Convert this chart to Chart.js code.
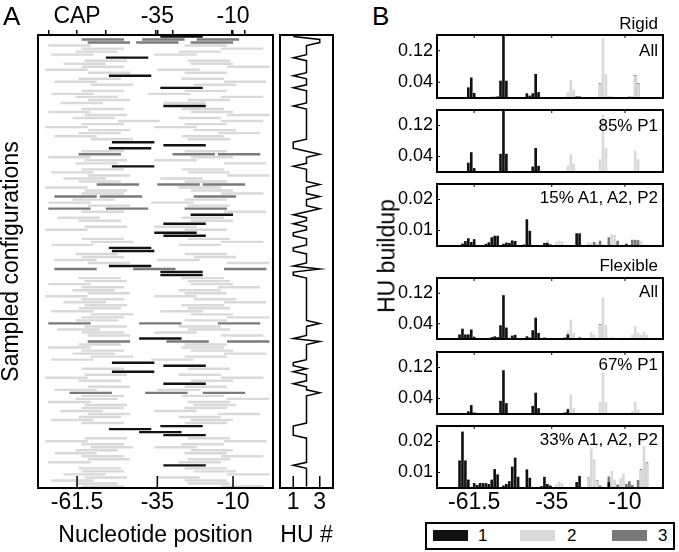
<!DOCTYPE html>
<html>
<head>
<meta charset="utf-8">
<script src="https://cdn.jsdelivr.net/npm/chart.js@4.4.1/dist/chart.umd.min.js"></script>
<style>
body{margin:0;background:#fff;font-family:'Liberation Sans',Arial,sans-serif;}
#fig{position:relative;width:679px;height:552px;overflow:hidden;background:#fff;}
#fig canvas{position:absolute;}
.lbl{position:absolute;line-height:1;white-space:nowrap;color:#000;}
.sw{position:absolute;width:35px;height:11px;}
</style>
</head>
<body>
<div id="fig">
  <canvas id="segs" width="276" height="552" style="left:0;top:0"></canvas>
  <canvas id="hu" width="62" height="552" style="left:276px;top:0"></canvas>

  <div class="lbl" style="left:3px;top:3px;font-size:26px">A</div>
  <div class="lbl" style="left:372px;top:3px;font-size:26px">B</div>
  <div class="lbl" style="right:21px;top:15px;font-size:17px">Rigid</div>
  <div class="lbl" style="right:21px;top:42px;font-size:17px">All</div>
  <div class="lbl" style="right:21px;top:117px;font-size:17px">85% P1</div>
  <div class="lbl" style="right:21px;top:189px;font-size:17px">15% A1, A2, P2</div>
  <div class="lbl" style="right:21px;top:257px;font-size:17px">Flexible</div>
  <div class="lbl" style="right:21px;top:283px;font-size:17px">All</div>
  <div class="lbl" style="right:21px;top:356px;font-size:17px">67% P1</div>
  <div class="lbl" style="right:21px;top:431px;font-size:17px">33% A1, A2, P2</div>
  <div class="lbl" style="left:387px;top:256px;font-size:23px;transform:translate(-50%,-50%) rotate(-90deg)">HU buildup</div>

  <div style="position:absolute;left:425px;top:522px;width:250px;height:28px;border:2px solid #000;box-sizing:border-box;"></div>
  <div class="sw" style="left:433px;top:530px;background:#111"></div>
  <div class="lbl" style="left:478px;top:527px;font-size:17px">1</div>
  <div class="sw" style="left:520px;top:530px;background:#d9d9d9"></div>
  <div class="lbl" style="left:567px;top:527px;font-size:17px">2</div>
  <div class="sw" style="left:612px;top:530px;background:#7a7a7a"></div>
  <div class="lbl" style="left:658px;top:527px;font-size:17px">3</div>
</div>
<script>
// HU start positions (nt) for every sampled configuration, top row first
const rows = [
  [-34], [-60,-40,-22], [-58,-42,-24], [-71,-26], [-60,-14], [-62,-28], [-70,-36], [-52], [-59,-25], [-66,-24],
  [-60,-12], [-72,-35], [-58,-26], [-51], [-61,-27], [-69,-13], [-57,-23], [-34], [-60,-26], [-70,-38],
  [-62,-14], [-58,-25], [-67,-33], [-33], [-60,-27], [-71,-24], [-59,-12], [-63,-28], [-48,-14], [-60,-26],
  [-72,-36], [-58,-23], [-61,-15], [-69,-27], [-57,-25], [-50], [-33], [-51], [-60,-26], [-61,-30,-15],
  [-71,-24], [-59,-36], [-62,-13], [-50], [-60,-27], [-70,-25], [-58,-12], [-66,-34], [-61,-26], [-55,-35,-20],
  [-72,-28], [-59,-24], [-60,-14], [-69,-54,-23], [-63,-26], [-71,-37], [-58,-25], [-71,-52,-26], [-60,-13], [-24],
  [-68,-27], [-61,-24], [-33], [-59,-36], [-72,-26], [-36], [-33], [-60,-25], [-57,-14], [-70,-28],
  [-51], [-50], [-62,-26], [-60,-23], [-69,-35], [-58,-12], [-51], [-69,-43,-13], [-34], [-34],
  [-61,-27], [-59,-25], [-71,-24], [-60,-15], [-63,-28], [-58,-26], [-72,-36], [-60,-23], [-66,-13], [-59,-27],
  [-61,-25], [-70,-34], [-57,-24], [-60,-12], [-62,-26], [-71,-41,-15], [-59,-28], [-68,-25], [-60,-36], [-58,-14],
  [-41], [-58,-32,-12], [-61,-26], [-71,-27], [-60,-24], [-63,-13], [-57,-26], [-70,-37], [-50], [-33],
  [-60,-25], [-50], [-59,-28], [-72,-14], [-61,-24], [-33], [-58,-26], [-69,-35], [-64,-39,-20], [-60,-27],
  [-62,-12], [-71,-25], [-59,-23], [-60,-26], [-67,-36], [-58,-15], [-61,-28], [-70,-24], [-60,-26], [-34],
  [-51], [-41], [-33], [-59,-25], [-72,-13], [-60,-27], [-57,-36], [-62,-24], [-69,-26], [-60,-14],
  [-58,-25], [-71,-28], [-33], [-61,-26], [-60,-23], [-66,-12], [-59,-35], [-70,-26], [-62,-25], [-60,-14]
];
const footprint = 14; // nt covered by one HU

const posTicks = [-61.5, -35, -10];
const capTicks = [-71, -61.5, -52, -35.5, -35, -30, -10.5, -10, -6];
const capLabels = ['', 'CAP', '', '', '-35', '', '', '-10', ''];
const huTicks = [1, 3];

// panel B: [position, HU buildup, HU #]
const rigidAll = [
  [-63.5,0.027,1],[-62.5,0.052,1],[-61.5,0.013,1],
  [-55.5,0.003,1],[-54.5,0.003,1],[-53.5,0.004,1],[-52.5,0.044,1],[-51.5,0.165,1],[-50.5,0.044,1],
  [-43.5,0.012,1],[-42.5,0.006,1],[-41.5,0.012,1],[-40.5,0.061,1],[-39.5,0.015,1],
  [-29.5,0.015,2],[-28.5,0.046,2],[-27.5,0.021,2],[-26.5,0.004,1],[-25.5,0.004,1],
  [-18.5,0.036,2],[-18.5,0.038,3],[-17.5,0.153,2],[-16.5,0.061,2],[-15.5,0.003,1],[-14.5,0.003,1],
  [-8.5,0.004,3],[-7.5,0.005,2],[-6.5,0.056,2],[-6.5,0.058,3],[-5.5,0.036,2],[-5.5,0.038,3]
];
const rigidP1 = [
  [-63.5,0.024,1],[-62.5,0.051,1],[-61.5,0.010,1],
  [-52.5,0.047,1],[-51.5,0.165,1],[-50.5,0.047,1],
  [-41.5,0.014,1],[-40.5,0.062,1],[-39.5,0.016,1],
  [-29.5,0.016,2],[-28.5,0.046,2],[-27.5,0.022,2],
  [-18.5,0.033,2],[-17.5,0.148,2],[-16.5,0.062,2],
  [-7.5,0.003,2],[-6.5,0.055,2],[-5.5,0.033,2]
];
const rigidA = [
  [-65.5,0.0058,1],[-64.5,0.0066,1],[-63.5,0.0075,1],[-62.5,0.0063,1],[-61.5,0.0072,1],
  [-57.5,0.0057,1],[-56.5,0.0062,1],[-55.5,0.0078,1],[-54.5,0.0083,1],[-53.5,0.0083,1],
  [-51.5,0.0057,1],[-50.5,0.0061,1],[-49.5,0.0060,1],[-48.5,0.0068,1],[-47.5,0.0066,1],
  [-44.5,0.0055,1],[-43.5,0.0136,1],[-42.5,0.0099,1],
  [-37.5,0.0060,1],[-36.5,0.0060,1],[-36.5,0.0068,2],[-35.5,0.0055,1],
  [-33.5,0.0063,2],[-32.5,0.0067,2],[-31.5,0.0066,2],
  [-26.5,0.0091,1],[-25.5,0.0091,1],
  [-22.5,0.0061,2],[-21.5,0.0060,2],[-20.5,0.0063,3],[-19.5,0.0060,2],[-18.5,0.0067,3],
  [-15.5,0.0078,3],[-14.5,0.0088,2],[-13.5,0.0086,2],[-12.5,0.0067,3],
  [-9.5,0.0057,1],[-7.5,0.0070,3],[-6.5,0.0070,3],[-5.5,0.0069,3],[-4.5,0.0067,2]
];
const flexAll = [
  [-66.5,0.012,1],[-65.5,0.027,1],[-64.5,0.012,1],[-63.5,0.012,1],[-62.5,0.025,1],[-61.5,0.006,1],
  [-60.5,0.002,1],[-59.5,0.002,1],[-58.5,0.002,1],
  [-55.5,0.005,1],[-54.5,0.007,1],[-53.5,0.005,1],[-52.5,0.036,1],[-51.5,0.115,1],[-50.5,0.030,1],
  [-49.5,0.003,1],[-48.5,0.009,1],[-47.5,0.011,1],
  [-43.5,0.007,1],[-42.5,0.004,1],[-41.5,0.023,1],[-40.5,0.056,1],[-39.5,0.016,1],[-37.5,0.004,1],[-35.5,0.002,1],
  [-30.5,0.004,1],[-29.5,0.012,1],[-29.5,0.020,2],[-28.5,0.051,2],[-27.5,0.016,2],[-25.5,0.004,1],
  [-21.5,0.018,2],[-20.5,0.011,2],[-18.5,0.037,2],[-18.5,0.039,3],[-17.5,0.109,2],[-16.5,0.037,2],[-14.5,0.005,2],
  [-10.5,0.004,2],[-7.5,0.012,2],[-6.5,0.034,2],[-5.5,0.016,2],[-4.5,0.011,2],[-3.5,0.019,2],[-2.5,0.011,2]
];
const flexP1 = [
  [-63.5,0.007,1],[-62.5,0.023,1],[-61.5,0.004,1],
  [-52.5,0.034,1],[-51.5,0.113,1],[-50.5,0.028,1],
  [-41.5,0.021,1],[-40.5,0.055,1],[-39.5,0.015,1],[-36.5,0.002,1],
  [-30.5,0.004,1],[-29.5,0.012,1],[-29.5,0.016,2],[-28.5,0.050,2],[-27.5,0.015,2],
  [-18.5,0.031,2],[-17.5,0.107,2],[-16.5,0.031,2],
  [-9.5,0.002,1],[-7.5,0.008,2],[-6.5,0.032,2],[-5.5,0.012,2]
];
const flexA = [
  [-66.5,0.0139,1],[-65.5,0.0232,1],[-64.5,0.0139,1],[-63.5,0.0077,1],
  [-61.5,0.0066,1],[-60.5,0.0060,1],[-59.5,0.0066,1],[-58.5,0.0066,1],[-57.5,0.0066,1],[-56.5,0.0063,1],
  [-55.5,0.0077,1],[-54.5,0.0111,1],[-53.5,0.0094,1],
  [-51.5,0.0058,1],[-50.5,0.0063,1],[-49.5,0.0072,1],[-48.5,0.0119,1],[-47.5,0.0148,1],[-46.5,0.0086,1],
  [-43.5,0.0110,1],[-42.5,0.0083,1],
  [-38.5,0.0056,1],[-37.5,0.0086,1],[-36.5,0.0063,1],[-35.5,0.0058,1],
  [-33.5,0.0062,2],[-32.5,0.0071,2],[-31.5,0.0066,2],
  [-26.5,0.0069,1],[-25.5,0.0089,1],
  [-22.5,0.0082,2],[-22.5,0.0084,3],[-21.5,0.0177,2],[-20.5,0.0143,2],[-19.5,0.0074,2],[-19.5,0.0076,3],[-18.5,0.0058,3],
  [-15.5,0.0069,1],[-15.5,0.0087,3],[-14.5,0.0106,2],[-13.5,0.0077,2],[-12.5,0.0061,3],[-11.5,0.0082,2],
  [-10.5,0.0097,2],[-9.5,0.0063,3],[-8.5,0.0072,3],[-7.5,0.0060,3],
  [-5.5,0.0076,3],[-4.5,0.0108,2],[-4.5,0.0111,3],[-3.5,0.0186,2],[-2.5,0.0130,2],[-2.5,0.0133,3]
];

const huColors = {1: '#111111', 2: '#d9d9d9', 3: '#7a7a7a'};

Chart.defaults.font.family = "'Liberation Sans', Arial, sans-serif";
Chart.defaults.color = '#000';
Chart.defaults.animation = false;

const frame = {
  id: 'frame',
  afterDraw(chart) {
    const {ctx, chartArea: a} = chart;
    ctx.save();
    ctx.lineWidth = 2;
    ctx.strokeStyle = '#000';
    ctx.strokeRect(a.left, a.top, a.right - a.left, a.bottom - a.top);
    ctx.restore();
  }
};

// short tick marks pointing into the plot box
const innerTicks = {
  id: 'innerTicks',
  afterDatasetsDraw(chart, args, o) {
    const {ctx, chartArea: a, scales} = chart;
    ctx.save();
    ctx.lineWidth = o.width || 1.5;
    ctx.strokeStyle = '#000';
    ctx.beginPath();
    if (o.bottom || o.top) {
      for (const t of scales.x.ticks) {
        const px = scales.x.getPixelForValue(t.value);
        if (o.bottom) { ctx.moveTo(px, a.bottom); ctx.lineTo(px, a.bottom - o.bottom); }
        if (o.top) { ctx.moveTo(px, a.top); ctx.lineTo(px, a.top + o.top); }
      }
    }
    if (o.left) {
      for (const t of scales.y.ticks) {
        const py = scales.y.getPixelForValue(t.value);
        ctx.moveTo(a.left, py); ctx.lineTo(a.left + o.left, py);
      }
    }
    ctx.stroke();
    ctx.restore();
  }
};

const setTicks = list => scale => { scale.ticks = list.map(v => ({value: v})); };
const noGrid = {display: false, drawTicks: false};
// fixed axis box, no extra room for labels hanging over the ends
const fixSize = (w, h) => s => {
  if (w !== null) s.width = w;
  if (h !== null) s.height = h;
  s.paddingTop = s.paddingBottom = s.paddingLeft = s.paddingRight = 0;
};

// ---- panel A, bound HUs per configuration
const segDatasets = [];
[1, 2, 3].forEach(n => {
  for (let k = 0; k < n; k++) {
    segDatasets.push({
      data: rows.map(r => r.length === n ? [r[k], r[k] + footprint] : null),
      backgroundColor: huColors[n],
      xAxisID: 'x',
      grouped: false,
      barPercentage: 0.8,
      categoryPercentage: 1,
      borderWidth: 0
    });
  }
});

new Chart(document.getElementById('segs'), {
  type: 'bar',
  data: {labels: rows.map((r, i) => i), datasets: segDatasets},
  options: {
    responsive: false,
    indexAxis: 'y',
    layout: {padding: {right: 3}},
    plugins: {legend: {display: false}, tooltip: {enabled: false}, innerTicks: {bottom: 12}},
    scales: {
      y: {
        ticks: {display: false}, grid: noGrid, border: {display: false},
        title: {display: true, text: 'Sampled configurations', font: {size: 23, lineHeight: 1}, padding: 0},
        afterFit: fixSize(38, null)
      },
      x: {
        type: 'linear', position: 'bottom', min: -74.4, max: 3.2,
        afterBuildTicks: setTicks(posTicks),
        ticks: {font: {size: 23}, padding: 1, autoSkip: false, maxRotation: 0, callback: v => String(v)},
        grid: noGrid, border: {display: false},
        title: {display: true, text: 'Nucleotide position', font: {size: 23}, padding: {top: 0, bottom: 3}},
        afterFit: fixSize(null, 64)
      },
      x2: {
        type: 'linear', position: 'top', min: -74.4, max: 3.2,
        afterBuildTicks: setTicks(capTicks),
        ticks: {font: {size: 23}, padding: 0, autoSkip: false, maxRotation: 0,
                callback: v => capLabels[capTicks.indexOf(v)]},
        grid: {drawOnChartArea: false, tickLength: 5, color: '#000', lineWidth: 1.5},
        border: {display: false},
        afterFit: fixSize(null, 35)
      }
    }
  },
  plugins: [frame, innerTicks]
});

// ---- HU count trace
const huCount = rows.map(r => r.length);
new Chart(document.getElementById('hu'), {
  type: 'scatter',
  data: {datasets: [{
    data: huCount.map((n, i) => ({x: n, y: i})),
    showLine: true, borderColor: '#000', borderWidth: 1.5, pointRadius: 0
  }]},
  options: {
    responsive: false,
    layout: {padding: {left: 4, right: 5, top: 35}},
    plugins: {legend: {display: false}, tooltip: {enabled: false}, innerTicks: {bottom: 12}},
    scales: {
      y: {type: 'linear', reverse: true, min: -0.5, max: rows.length - 0.5, display: false},
      x: {
        type: 'linear', min: 0, max: 4,
        afterBuildTicks: setTicks(huTicks),
        ticks: {font: {size: 23}, padding: 1, autoSkip: false, maxRotation: 0},
        grid: noGrid, border: {display: false},
        title: {display: true, text: 'HU #', font: {size: 23}, padding: {top: 0, bottom: 3}},
        afterFit: fixSize(null, 64)
      }
    }
  },
  plugins: [frame, innerTicks]
});

// ---- panel B, HU buildup per position
const bPanels = [
  {data: rigidAll, yMin: 0, yMax: 0.16, yTicks: [0.04, 0.12]},
  {data: rigidP1, yMin: 0, yMax: 0.16, yTicks: [0.04, 0.12]},
  {data: rigidA, yMin: 0.005, yMax: 0.025, yTicks: [0.01, 0.02]},
  {data: flexAll, yMin: 0, yMax: 0.16, yTicks: [0.04, 0.12]},
  {data: flexP1, yMin: 0, yMax: 0.16, yTicks: [0.04, 0.12]},
  {data: flexA, yMin: 0.005, yMax: 0.025, yTicks: [0.01, 0.02]}
];
const bBoxes = [[35, 98], [110, 172], [184, 246], [278, 339], [352, 414], [426, 488]];
const fig = document.getElementById('fig');

bPanels.forEach((p, i) => {
  const [top, bottom] = bBoxes[i];
  const last = i === bPanels.length - 1;
  const cv = document.createElement('canvas');
  cv.width = 282;
  cv.height = bottom - top + (last ? 33 : 6);
  cv.style.left = '385px';
  cv.style.top = (top - 3) + 'px';
  fig.insertBefore(cv, fig.firstChild);

  new Chart(cv, {
    type: 'bar',
    data: {datasets: [1, 2, 3].map(n => ({
      data: p.data.filter(d => d[2] === n).map(d => ({x: d[0], y: d[1]})),
      backgroundColor: huColors[n],
      grouped: false,
      barPercentage: 0.9,
      categoryPercentage: 1,
      borderWidth: 0
    }))},
    options: {
      responsive: false,
      layout: {padding: {top: 3, right: 4}},
      plugins: {legend: {display: false}, tooltip: {enabled: false}, innerTicks: {top: 3, left: 3, width: 1}},
      scales: {
        x: {
          type: 'linear', offset: false, min: -74.2, max: 3,
          afterBuildTicks: setTicks(posTicks),
          ticks: {display: last, font: {size: 23}, padding: 1, autoSkip: false, maxRotation: 0, callback: v => String(v)},
          grid: {display: false, drawTicks: false, offset: false}, border: {display: false},
          afterFit: fixSize(null, last ? 30 : 3)
        },
        y: {
          min: p.yMin, max: p.yMax,
          afterBuildTicks: setTicks(p.yTicks),
          ticks: {font: {size: 18}, padding: 4, callback: v => v.toFixed(2)},
          grid: noGrid, border: {display: false},
          afterFit: fixSize(52, null)
        }
      }
    },
    plugins: [frame, innerTicks]
  });
});
</script>
</body>
</html>
